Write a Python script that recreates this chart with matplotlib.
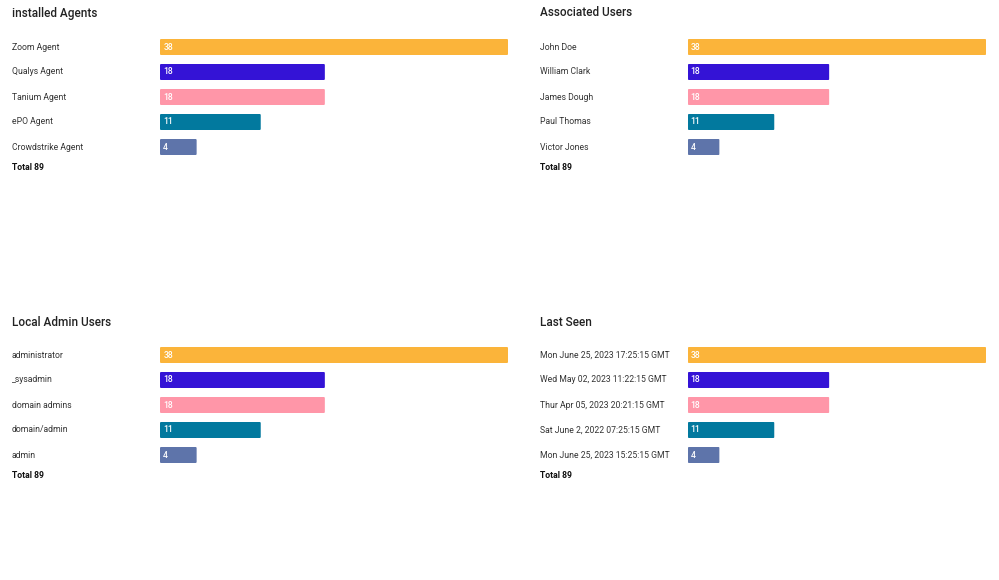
import matplotlib.pyplot as plt
from matplotlib.patches import FancyBboxPatch

W, H = 999, 580

values = [38, 18, 18, 11, 4]
colors = ['#FBB43A', '#3413D6', '#FF96A8', '#02799E', '#5E74AA']
total = 89

panels = [
    ('installed Agents', ['Zoom Agent', 'Qualys Agent', 'Tanium Agent', 'ePO Agent', 'Crowdstrike Agent']),
    ('Associated Users', ['John Doe', 'William Clark', 'James Dough', 'Paul Thomas', 'Victor Jones']),
    ('Local Admin Users', ['administrator', '_sysadmin', 'domain admins', 'domain/admin', 'admin']),
    ('Last Seen', ['Mon June 25, 2023 17:25:15 GMT', 'Wed May 02, 2023 11:22:15 GMT',
                   'Thur Apr 05, 2023 20:21:15 GMT', 'Sat June 2, 2022 07:25:15 GMT',
                   'Mon June 25, 2023 15:25:15 GMT']),
]

plt.rcParams['font.family'] = ['Roboto', 'DejaVu Sans']
fig = plt.figure(figsize=(W / 100, H / 100), dpi=100)

# (label x, bar start, bar end, title y, first row y) in pixels
layout = [(12, 160, 508, 13, 47), (540, 688, 986, 13, 47),
          (12, 160, 508, 322, 355), (540, 688, 986, 322, 355)]

def fx(px):
    return px / W

def fy(py):
    return 1 - py / H

for (title, labels), (lx, x0, x1, ty, ry) in zip(panels, layout):
    fig.text(fx(lx), fy(ty), title, fontsize=8.5, color='#222222', va='center', fontweight='medium')
    top = ry - 12.5
    bottom = ry + 4 * 25 + 12.5
    ax = fig.add_axes([fx(x0), fy(bottom), fx(x1 - x0), (bottom - top) / H])
    ypos = list(range(len(values)))
    bars = ax.barh(ypos, values, height=0.64, color=colors)
    ax.set_xlim(0, max(values))
    ax.set_ylim(4.5, -0.5)
    ax.axis('off')
    # rounded corners: swap each bar for a rounded box of the same extent
    ar = (bottom - top) / 5 / ((x1 - x0) / max(values))
    for b in bars:
        b.set_visible(False)
        ax.add_patch(FancyBboxPatch((b.get_x(), b.get_y()), b.get_width(), b.get_height(),
                                    boxstyle='round,pad=0,rounding_size=0.12',
                                    mutation_aspect=1 / ar, color=b.get_facecolor(), lw=0))
    for i, (lab, v) in enumerate(zip(labels, values)):
        fig.text(fx(lx), fy(ry + 25 * i), lab, fontsize=6.2, color='#333333', va='center')
        ax.text(0.35, i, str(v), color='white', fontsize=6.2, va='center', ha='left', fontweight='medium')
    fig.text(fx(lx), fy(ry + 4 * 25 + 21), f'Total {total}', fontsize=6.2, color='#111111',
             va='center', fontweight='bold')

fig.savefig('out.png', dpi=100)
